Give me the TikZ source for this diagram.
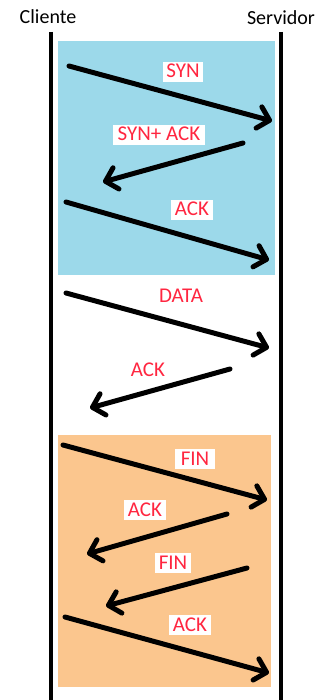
\documentclass[tikz,border=0pt]{standalone}
\usepackage{fontspec}
\setmainfont{Carlito}
\usetikzlibrary{arrows.meta}
\definecolor{synblue}{RGB}{156,217,234}
\definecolor{finorange}{RGB}{251,198,142}
\definecolor{msgred}{RGB}{255,38,64}
\begin{document}
\begin{tikzpicture}[x=1pt,y=-1pt]
			\tikzstyle{host}=[font=\fontsize{20}{22}\selectfont,inner sep=0pt]
			\tikzstyle{lbl}=[fill=white,text=msgred,font=\fontsize{21}{23}\selectfont,inner xsep=3.5pt,inner ysep=2pt,text height=14pt,text depth=2pt]
			\tikzstyle{msg}=[line width=5pt,line cap=round,line join=round,-{Straight Barb[length=11pt,width=22pt,line cap=round,line join=round]}]
			\useasboundingbox (0,0) rectangle (324,700);
			
			% phases
			\fill[synblue] (58,41) rectangle (275,275);
			\fill[finorange] (58,435) rectangle (271,687);
			
			% hosts
			\node[host] (cliente) at (48,17) {Cliente};
			\node[host] (servidor) at (281,18) {Servidor};
			\coordinate (c0) at (51,32);
			\coordinate (cz) at (51,700);
			\coordinate (s0) at (280.5,32);
			\coordinate (sz) at (280.5,700);
			\draw[line width=4pt] (c0) -- (cz);
			\draw[line width=4pt] (s0) -- (sz);
			
			% end points
			\coordinate (c1) at (69,66);   \coordinate (s1) at (272,121);
			\coordinate (s2) at (243,143); \coordinate (c2) at (103,182);
			\coordinate (c3) at (66,202);  \coordinate (s3) at (269,260);
			\coordinate (c4) at (66,293);  \coordinate (s4) at (269,348);
			\coordinate (s5) at (230,369); \coordinate (c5) at (90,408);
			\coordinate (c6) at (63,445);  \coordinate (s6) at (267,500);
			\coordinate (s7) at (227,514); \coordinate (c7) at (87,554);
			\coordinate (s8) at (247,568); \coordinate (c8) at (106,606);
			\coordinate (c9) at (65,617);  \coordinate (s9) at (269,673);
			
			\path[msg]
			(c1) edge (s1)
			(s2) edge (c2)
			(c3) edge (s3)
			(c4) edge (s4)
			(s5) edge (c5)
			(c6) edge (s6)
			(s7) edge (c7)
			(s8) edge (c8)
			(c9) edge (s9)
			;
			
			% labels
			\node[lbl] (syn) at (183,72) {SYN};
			\node[lbl,inner xsep=5pt] (synack) at (159,135) {SYN+ ACK};
			\node[lbl] (ack1) at (192,210) {ACK};
			\node[lbl] (data) at (181,296) {DATA};
			\node[lbl] (ack2) at (148,370) {ACK};
			\node[lbl,inner xsep=6pt] (fin1) at (195,459) {FIN\hspace{4pt}};
			\node[lbl] (ack3) at (145,510) {ACK};
			\node[lbl] (fin2) at (173,563) {FIN};
			\node[lbl] (ack4) at (190,625) {ACK};
\end{tikzpicture}
\end{document}
